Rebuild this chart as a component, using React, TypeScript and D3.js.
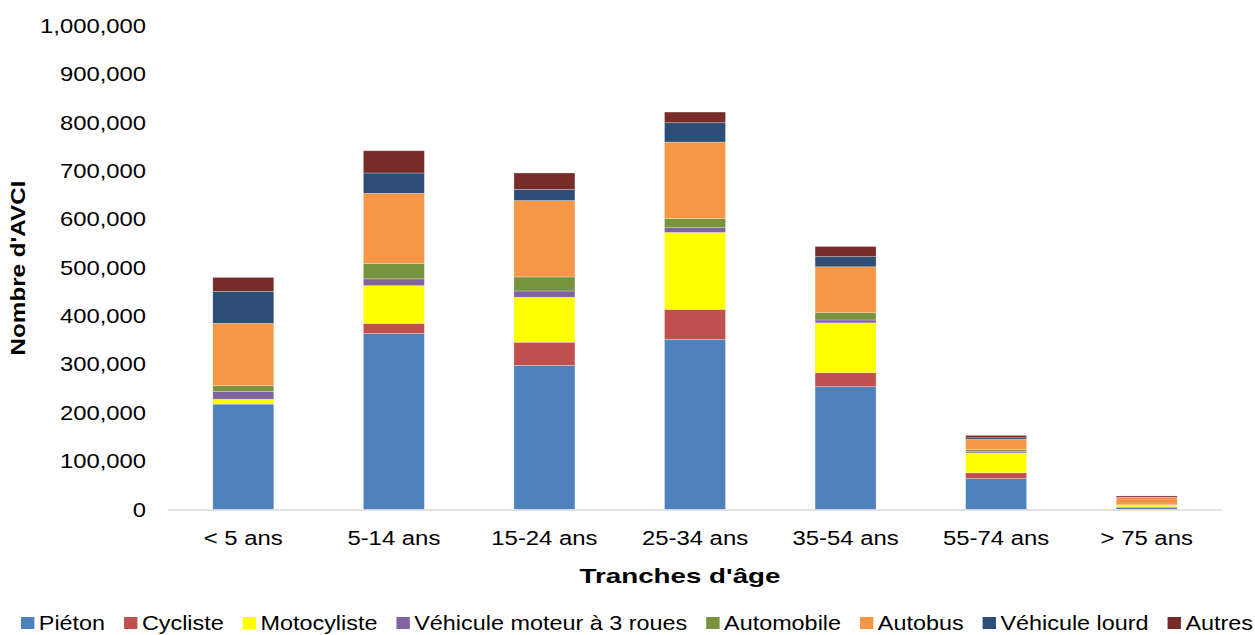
import React from "react";
import * as d3 from "d3";

const categories = ["< 5 ans", "5-14 ans", "15-24 ans", "25-34 ans", "35-54 ans", "55-74 ans", "> 75 ans"];
const seriesNames = ["Piéton", "Cycliste", "Motocyliste", "Véhicule moteur à 3 roues", "Automobile", "Autobus", "Véhicule lourd", "Autres"];
const pieton = [218000, 364000, 298000, 352000, 254000, 64000, 4500];
const cycliste = [0, 21000, 48000, 62000, 29000, 12000, 1000];
const motocyliste = [10000, 78000, 93000, 159000, 103000, 41000, 3300];
const troisRoues = [16000, 14000, 13000, 10000, 6000, 3000, 500];
const automobile = [12000, 32000, 29000, 19000, 15000, 4000, 500];
const autobus = [129000, 145000, 158000, 158000, 95000, 21000, 15000];
const vehiculeLourd = [66000, 42000, 23000, 40000, 21000, 3300, 500];
const autres = [29000, 46000, 34000, 22000, 21000, 5000, 2700];
const yTicks = [0, 100000, 200000, 300000, 400000, 500000, 600000, 700000, 800000, 900000, 1000000];
const colors = ["#4f81bd", "#c0504d", "#ffff00", "#8064a2", "#77933c", "#f79646", "#2c4d75", "#772c2a"];

const seriesValues = [pieton, cycliste, motocyliste, troisRoues, automobile, autobus, vehiculeLourd, autres];

const FONT = "'Liberation Sans', Arial, sans-serif";

function measure(text: string, size: number, bold = false): number {
  const c = document.createElement("canvas").getContext("2d");
  if (!c) return text.length * size * 0.5;
  c.font = `${bold ? "bold " : ""}${size}px ${FONT}`;
  return c.measureText(text).width;
}

export default function App() {
  const W = 1255, H = 635;
  const FS = 21;
  const x = d3.scaleBand<string>().domain(categories).range([168, 1222]).paddingInner(0.595).paddingOuter(0.2975);
  const y = d3.scaleLinear().domain([0, 1000000]).range([509.5, 26]);
  const fmt = d3.format(",");

  const rows = categories.map((c, i) => {
    const r: any = { cat: c };
    seriesNames.forEach((s, k) => (r[s] = seriesValues[k][i]));
    return r;
  });
  const stacked = d3.stack<any>().keys(seriesNames)(rows);

  // horizontal stretch factors matched to the reference text widths
  const sxTick = 106 / measure("1,000,000", FS);
  const sxCat = 93 / measure("5-14 ans", FS);
  const sxXTitle = 201 / measure("Tranches d'âge", FS, true);
  const sxYTitle = 175 / measure("Nombre d'AVCI", FS, true);

  // legend layout
  const sq = 12, gapSqText = 4, gapItems = 17;
  const widths = seriesNames.map((s) => sq + gapSqText + measure(s, FS));
  const total = d3.sum(widths) + gapItems * (seriesNames.length - 1);
  const sxLegend = (1253 - 21) / total;
  let lx = 0;
  const legendPos = widths.map((w) => {
    const p = lx;
    lx += w + gapItems;
    return p;
  });

  return (
    <svg width={W} height={H} style={{ position: "absolute", left: 0, top: 0, background: "#fff" }} fontFamily={FONT}>
      <rect x={0} y={0} width={W} height={H} fill="#fff" />
      {yTicks.map((t) => (
        <text
          key={t}
          transform={`translate(146,${y(t)}) scale(${sxTick},1)`}
          textAnchor="end"
          dominantBaseline="central"
          fontSize={FS}
          fill="#000"
        >
          {fmt(t)}
        </text>
      ))}
      {stacked.map((layer, k) => (
        <g key={layer.key} fill={colors[k]}>
          {layer.map((d, i) => {
            const h = y(d[0]) - y(d[1]);
            if (h <= 0) return null;
            return (
              <rect
                key={i}
                x={x(categories[i])}
                y={y(d[1])}
                width={x.bandwidth()}
                height={h}
                stroke="rgba(255,255,255,0.35)"
                strokeWidth={0.75}
              />
            );
          })}
        </g>
      ))}
      <line x1={168} x2={1222} y1={510} y2={510} stroke="#d9d9d9" strokeWidth={1.5} />
      {categories.map((c) => (
        <text
          key={c}
          transform={`translate(${(x(c) as number) + x.bandwidth() / 2},538) scale(${sxCat},1)`}
          textAnchor="middle"
          dominantBaseline="central"
          fontSize={FS}
        >
          {c}
        </text>
      ))}
      <text
        transform={`translate(680,576) scale(${sxXTitle},1)`}
        textAnchor="middle"
        dominantBaseline="central"
        fontSize={FS}
        fontWeight="bold"
      >
        Tranches d'âge
      </text>
      <text
        transform={`translate(18,268) rotate(-90) scale(${sxYTitle},1)`}
        textAnchor="middle"
        dominantBaseline="central"
        fontSize={FS}
        fontWeight="bold"
      >
        Nombre d'AVCI
      </text>
      <g transform={`translate(21,623) scale(${sxLegend},1)`}>
        {seriesNames.map((s, k) => (
          <g key={s} transform={`translate(${legendPos[k]},0)`}>
            <rect x={0} y={-6} width={sq} height={sq} fill={colors[k]} />
            <text x={sq + gapSqText} y={0} dominantBaseline="central" fontSize={FS}>
              {s}
            </text>
          </g>
        ))}
      </g>
    </svg>
  );
}
